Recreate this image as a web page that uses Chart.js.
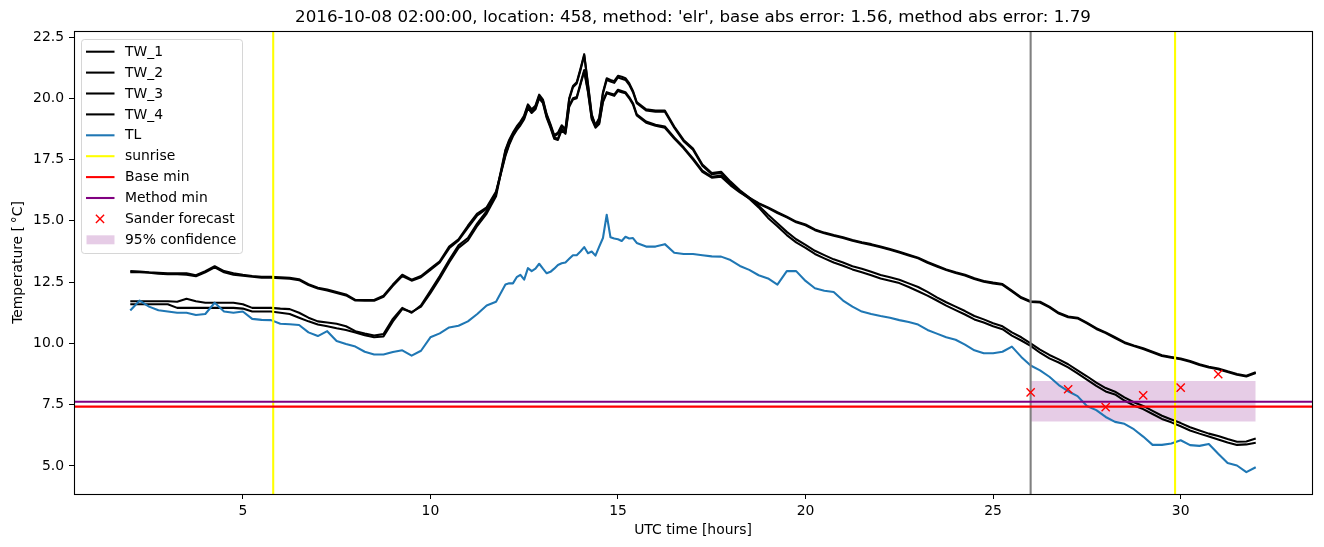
<!DOCTYPE html>
<html><head><meta charset="utf-8">
<script src="https://cdn.jsdelivr.net/npm/chart.js@4.4.0/dist/chart.umd.min.js"></script>
<style>html,body{margin:0;padding:0;background:#fff;}canvas{display:block;}</style>
</head><body>
<canvas id="c" width="1324" height="547"></canvas>
<script>
// ---------------- data ----------------
const times = [
 2,2.25,2.5,2.75,3,3.25,3.5,3.75,4,4.25,4.5,4.75,5,5.25,5.5,5.75,6,6.25,6.5,6.75,
 7,7.25,7.5,7.75,8,8.25,8.5,8.75,9,9.25,9.5,9.75,10,10.25,10.5,10.75,11,11.25,11.5,11.75,
 12,12.1,12.2,12.3,12.4,12.5,12.6,12.7,12.8,12.9,13,13.1,13.2,13.3,13.4,13.5,13.6,13.7,13.8,13.9,
 14,14.1,14.2,14.3,14.4,14.5,14.6,14.7,14.8,14.9,15,15.1,15.2,15.3,15.4,
 15.5,15.75,16,16.25,16.5,16.75,17,17.25,17.5,17.75,18,18.25,18.5,18.75,19,19.25,19.5,19.75,
 20,20.25,20.5,20.75,21,21.25,21.5,21.75,22,22.25,22.5,22.75,23,23.25,23.5,23.75,
 24,24.25,24.5,24.75,25,25.25,25.5,25.75,26,26.25,26.5,26.75,27,27.25,27.5,27.75,
 28,28.25,28.5,28.75,29,29.25,29.5,29.75,30,30.25,30.5,30.75,31,31.25,31.5,31.75,32
];
const TW_1 = [
 12.95,12.93,12.9,12.88,12.86,12.86,12.86,12.78,12.95,13.15,12.95,12.86,12.8,12.75,12.72,12.72,12.7,12.68,12.62,12.42,
 12.27,12.2,12.1,12.0,11.78,11.77,11.77,11.95,12.4,12.8,12.6,12.75,13.05,13.35,13.95,14.25,14.8,15.3,15.55,16.2,
 17.7,18.15,18.5,18.75,18.95,19.2,19.65,19.45,19.6,20.05,19.85,19.25,18.85,18.4,18.35,18.75,18.6,19.7,20.0,20.05,
 20.6,21.15,20.3,19.2,18.85,19.0,19.9,20.25,20.2,20.15,20.35,20.3,20.25,20.05,19.8,
 19.35,19.05,18.92,18.85,18.4,18.0,17.55,17.05,16.8,16.85,16.5,16.2,15.95,15.72,15.55,15.35,15.17,14.97,
 14.85,14.65,14.52,14.42,14.33,14.22,14.13,14.05,13.95,13.85,13.74,13.62,13.5,13.32,13.17,13.02,
 12.9,12.8,12.66,12.55,12.48,12.42,12.15,11.88,11.72,11.7,11.5,11.25,11.1,11.05,10.85,10.62,
 10.45,10.25,10.05,9.92,9.8,9.66,9.52,9.45,9.38,9.28,9.15,9.05,8.98,8.86,8.75,8.68,8.82
];
const TW_2 = [
 12.9,12.9,12.88,12.84,12.82,12.82,12.8,12.74,12.9,13.1,12.9,12.8,12.76,12.72,12.68,12.68,12.66,12.64,12.58,12.38,
 12.24,12.16,12.06,11.96,11.75,11.74,11.74,11.9,12.35,12.75,12.56,12.7,13.0,13.3,13.88,14.2,14.72,15.22,15.5,16.15,
 17.65,18.1,18.45,18.7,18.9,19.15,19.6,19.4,19.55,20.0,19.8,19.2,18.8,18.35,18.3,18.7,18.55,19.65,19.95,20.0,
 20.55,21.1,20.25,19.15,18.8,18.95,19.85,20.2,20.15,20.1,20.3,20.25,20.2,20.0,19.75,
 19.3,19.0,18.88,18.8,18.36,17.96,17.5,17.0,16.76,16.8,16.45,16.16,15.92,15.7,15.52,15.32,15.14,14.94,
 14.82,14.62,14.49,14.39,14.3,14.19,14.1,14.02,13.92,13.82,13.71,13.59,13.47,13.29,13.14,12.99,
 12.87,12.77,12.63,12.52,12.45,12.39,12.12,11.85,11.69,11.67,11.47,11.22,11.07,11.02,10.82,10.59,
 10.42,10.22,10.02,9.89,9.77,9.63,9.49,9.42,9.35,9.25,9.12,9.02,8.95,8.83,8.72,8.65,8.79
];
const TW_3 = [
 11.72,11.72,11.72,11.72,11.72,11.7,11.82,11.72,11.66,11.66,11.66,11.66,11.6,11.45,11.45,11.45,11.42,11.4,11.25,11.05,
 10.9,10.85,10.8,10.7,10.5,10.4,10.32,10.38,11.0,11.45,11.25,11.55,12.15,12.75,13.4,14.0,14.3,14.9,15.4,16.1,
 17.9,18.3,18.6,18.85,19.05,19.3,19.75,19.55,19.7,20.15,19.95,19.35,18.95,18.5,18.6,18.9,18.75,20.0,20.5,20.65,
 21.2,21.8,20.6,19.35,18.9,19.2,20.25,20.82,20.75,20.7,20.92,20.88,20.82,20.62,20.3,
 19.85,19.55,19.5,19.5,18.85,18.3,17.95,17.3,16.95,17.0,16.6,16.25,15.95,15.62,15.25,14.9,14.55,14.25,
 14.02,13.78,13.6,13.43,13.3,13.15,13.05,12.92,12.79,12.7,12.6,12.45,12.3,12.1,11.88,11.68,
 11.5,11.32,11.12,10.98,10.82,10.7,10.45,10.25,10.0,9.75,9.53,9.35,9.15,8.9,8.66,8.4,
 8.18,8.03,7.8,7.6,7.45,7.25,7.05,6.9,6.75,6.58,6.45,6.32,6.22,6.1,5.99,6.0,6.12
];
const TW_4 = [
 11.6,11.6,11.6,11.6,11.6,11.45,11.45,11.45,11.45,11.45,11.45,11.45,11.42,11.3,11.3,11.3,11.25,11.2,11.05,10.9,
 10.77,10.7,10.62,10.55,10.45,10.33,10.25,10.28,10.9,11.4,11.28,11.5,12.05,12.65,13.3,13.9,14.2,14.8,15.3,16.0,
 17.85,18.25,18.55,18.8,19.0,19.25,19.7,19.5,19.65,20.1,19.9,19.3,18.9,18.45,18.55,18.85,18.7,19.95,20.45,20.6,
 21.15,21.75,20.55,19.3,18.88,19.15,20.2,20.75,20.68,20.63,20.85,20.8,20.75,20.55,20.25,
 19.8,19.5,19.45,19.45,18.8,18.25,17.9,17.25,16.9,16.95,16.55,16.2,15.9,15.55,15.12,14.78,14.42,14.12,
 13.9,13.65,13.47,13.3,13.17,13.02,12.9,12.78,12.65,12.56,12.46,12.3,12.13,11.95,11.75,11.54,
 11.36,11.18,10.98,10.85,10.7,10.58,10.32,10.12,9.9,9.62,9.39,9.22,9.02,8.78,8.52,8.27,
 8.04,7.92,7.67,7.47,7.32,7.12,6.92,6.78,6.62,6.45,6.32,6.2,6.08,5.96,5.86,5.88,5.95
];
const TL = [
 11.34,11.75,11.5,11.35,11.3,11.25,11.25,11.16,11.2,11.66,11.3,11.25,11.3,11.0,10.96,10.95,10.8,10.78,10.75,10.45,
 10.3,10.5,10.1,9.98,9.87,9.66,9.55,9.55,9.65,9.72,9.5,9.7,10.25,10.41,10.65,10.72,10.9,11.2,11.55,11.7,
 12.4,12.45,12.45,12.7,12.8,12.6,13.07,12.95,13.05,13.25,13.05,12.86,12.92,13.05,13.2,13.27,13.3,13.45,13.6,13.6,
 13.75,13.93,13.68,13.75,13.58,13.95,14.3,15.25,14.33,14.28,14.25,14.18,14.35,14.28,14.3,
 14.1,13.95,13.95,14.05,13.7,13.65,13.65,13.6,13.55,13.54,13.4,13.16,13.0,12.78,12.65,12.4,12.95,12.95,
 12.55,12.25,12.15,12.1,11.75,11.5,11.3,11.2,11.12,11.05,10.95,10.87,10.77,10.55,10.4,10.25,
 10.15,9.95,9.72,9.6,9.6,9.66,9.87,9.45,9.1,8.9,8.64,8.3,8.05,7.85,7.45,7.28,
 7.0,6.8,6.72,6.5,6.2,5.86,5.86,5.92,6.05,5.85,5.82,5.9,5.5,5.12,5.02,4.75,4.95
];
const sunriseTimes = [5.81, 29.85];
const forecastStart = 26;
const baseMin = 7.42;
const methodMin = 7.62;
const sanderTimes = [26, 27, 28, 29, 30, 31];
const sanderValues = [8.0, 8.13, 7.4, 7.88, 8.2, 8.75];
const confTimes = [26, 32];
const confLow = 6.81, confHigh = 8.47;
const xTicks = [5, 10, 15, 20, 25, 30];
const yTicks = [5.0, 7.5, 10.0, 12.5, 15.0, 17.5, 20.0, 22.5];
const X_MIN = 0.5, X_MAX = 33.5, Y_MIN = 3.857, Y_MAX = 22.745;
const titleText = "2016-10-08 02:00:00, location: 458, method: 'elr', base abs error: 1.56, method abs error: 1.79";

// ---------------- chart ----------------
const FONT = '"DejaVu Sans", sans-serif';
const LW = 2.08;
const pts = vals => times.map((t, i) => ({x: t, y: vals[i]}));
const lineDs = (label, vals, color, order) => ({
  label, data: pts(vals), borderColor: color, borderWidth: LW, pointRadius: 0,
  tension: 0, fill: false, order, borderJoinStyle: 'round'
});
const datasets = [
  {label: '95% confidence', data: confTimes.map(t => ({x: t, y: confHigh})), fill: {value: confLow},
   backgroundColor: 'rgba(128,0,128,0.2)', borderWidth: 0, pointRadius: 0, order: 20},
  lineDs('TW_1', TW_1, '#000000', 15),
  lineDs('TW_2', TW_2, '#000000', 14),
  lineDs('TW_3', TW_3, '#000000', 13),
  lineDs('TW_4', TW_4, '#000000', 12),
  lineDs('TL', TL, '#1f77b4', 11),
];
sunriseTimes.forEach(t => datasets.push({label: 'sunrise', data: [{x: t, y: Y_MIN}, {x: t, y: Y_MAX}],
  borderColor: '#ffff00', borderWidth: LW, pointRadius: 0, order: 9}));
datasets.push({label: 'forecast', data: [{x: forecastStart, y: Y_MIN}, {x: forecastStart, y: Y_MAX}],
  borderColor: '#808080', borderWidth: LW, pointRadius: 0, order: 8});
datasets.push({label: 'Base min', data: [{x: X_MIN, y: baseMin}, {x: X_MAX, y: baseMin}],
  borderColor: '#ff0000', borderWidth: LW, pointRadius: 0, order: 7});
datasets.push({label: 'Method min', data: [{x: X_MIN, y: methodMin}, {x: X_MAX, y: methodMin}],
  borderColor: '#800080', borderWidth: LW, pointRadius: 0, order: 6});
datasets.push({label: 'Sander forecast', data: sanderTimes.map((t, i) => ({x: t, y: sanderValues[i]})),
  showLine: false, pointStyle: 'crossRot', pointRadius: 5.8, pointBorderWidth: 1.4,
  pointBorderColor: '#ff0000', borderColor: '#ff0000', backgroundColor: '#ff0000', order: 1});

const legendItems = [
  {label: 'TW_1', type: 'line', color: '#000000'},
  {label: 'TW_2', type: 'line', color: '#000000'},
  {label: 'TW_3', type: 'line', color: '#000000'},
  {label: 'TW_4', type: 'line', color: '#000000'},
  {label: 'TL', type: 'line', color: '#1f77b4'},
  {label: 'sunrise', type: 'line', color: '#ffff00'},
  {label: 'Base min', type: 'line', color: '#ff0000'},
  {label: 'Method min', type: 'line', color: '#800080'},
  {label: 'Sander forecast', type: 'marker', color: '#ff0000'},
  {label: '95% confidence', type: 'patch', color: 'rgba(128,0,128,0.2)'}
];

const decor = {
  id: 'decor',
  afterDraw(chart) {
    const ctx = chart.ctx, a = chart.chartArea;
    ctx.save();
    // frame
    ctx.strokeStyle = '#000'; ctx.lineWidth = 1.1;
    ctx.strokeRect(Math.round(a.left) + 0.5, Math.round(a.top) + 0.5,
                   Math.round(a.right - a.left), Math.round(a.bottom - a.top));
    // title
    ctx.fillStyle = '#000';
    ctx.font = '16.7px ' + FONT;
    ctx.textAlign = 'center'; ctx.textBaseline = 'alphabetic';
    ctx.fillText(titleText, (a.left + a.right) / 2, 22);
    // axis labels
    ctx.font = '13.9px ' + FONT;
    ctx.textBaseline = 'middle';
    ctx.fillText('UTC time [hours]', (a.left + a.right) / 2, 530);
    ctx.save();
    ctx.translate(18, (a.top + a.bottom) / 2);
    ctx.rotate(-Math.PI / 2);
    ctx.fillText('Temperature [\u2009\u00b0C]', 0, 0);
    ctx.restore();
    // legend
    const bx = 81.5, by = 39.5, bw = 161, bh = 214, r = 3;
    ctx.beginPath();
    ctx.moveTo(bx + r, by); ctx.lineTo(bx + bw - r, by); ctx.arcTo(bx + bw, by, bx + bw, by + r, r);
    ctx.lineTo(bx + bw, by + bh - r); ctx.arcTo(bx + bw, by + bh, bx + bw - r, by + bh, r);
    ctx.lineTo(bx + r, by + bh); ctx.arcTo(bx, by + bh, bx, by + bh - r, r);
    ctx.lineTo(bx, by + r); ctx.arcTo(bx, by, bx + r, by, r); ctx.closePath();
    ctx.fillStyle = 'rgba(255,255,255,0.8)'; ctx.fill();
    ctx.strokeStyle = 'rgba(204,204,204,0.8)'; ctx.lineWidth = 1; ctx.stroke();
    ctx.textAlign = 'left'; ctx.textBaseline = 'middle';
    legendItems.forEach((it, i) => {
      const y = 51.7 + 20.9 * i;
      if (it.type === 'line') {
        ctx.strokeStyle = it.color; ctx.lineWidth = LW;
        ctx.beginPath(); ctx.moveTo(86, y); ctx.lineTo(114.5, y); ctx.stroke();
      } else if (it.type === 'marker') {
        ctx.strokeStyle = it.color; ctx.lineWidth = 1.4;
        ctx.beginPath(); ctx.moveTo(100 - 4.1, y - 4.1); ctx.lineTo(100 + 4.1, y + 4.1);
        ctx.moveTo(100 - 4.1, y + 4.1); ctx.lineTo(100 + 4.1, y - 4.1); ctx.stroke();
      } else {
        ctx.fillStyle = it.color; ctx.fillRect(86.5, y - 4.5, 28, 9);
      }
      ctx.fillStyle = '#000';
      ctx.fillText(it.label, 125, y + 0.5);
    });
    ctx.restore();
  }
};

new Chart(document.getElementById('c'), {
  type: 'line',
  data: {datasets},
  options: {
    responsive: false, animation: false, events: [],
    layout: {padding: {top: 31, right: 12, bottom: 0, left: 0}},
    plugins: {legend: {display: false}, tooltip: {enabled: false}, title: {display: false}},
    scales: {
      x: {
        type: 'linear', min: X_MIN, max: X_MAX,
        afterBuildTicks: s => { s.ticks = xTicks.map(v => ({value: v})); },
        afterFit: s => { s.height = 53; },
        grid: {drawOnChartArea: false, drawTicks: true, tickLength: 5, color: '#000', lineWidth: 1},
        border: {display: false},
        ticks: {color: '#000', font: {family: FONT, size: 13.9}, padding: 4, maxRotation: 0,
                callback: v => String(v)}
      },
      y: {
        type: 'linear', min: Y_MIN, max: Y_MAX,
        afterBuildTicks: s => { s.ticks = yTicks.map(v => ({value: v})); },
        afterFit: s => { s.width = 74; },
        grid: {drawOnChartArea: false, drawTicks: true, tickLength: 5, color: '#000', lineWidth: 1},
        border: {display: false},
        ticks: {color: '#000', font: {family: FONT, size: 13.9}, padding: 5,
                callback: v => Number(v).toFixed(1)}
      }
    }
  },
  plugins: [decor]
});
</script>
</body></html>
